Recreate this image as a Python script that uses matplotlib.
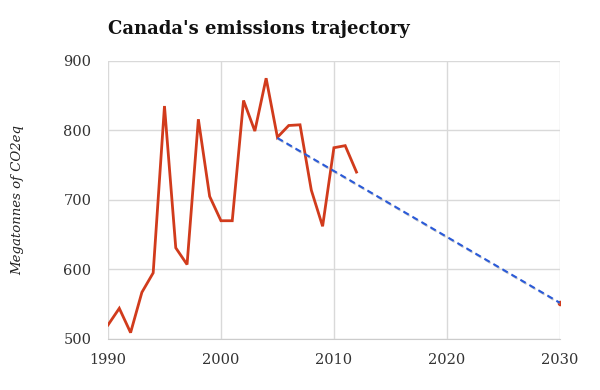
import matplotlib.pyplot as plt
import matplotlib.patheffects as pe

years = list(range(1990, 2013))
emissions = [520, 544, 509, 567, 595, 835, 631, 607, 816, 705, 670, 670,
             843, 799, 875, 790, 807, 808, 714, 662, 775, 778, 740]
target_year = [2030]
target_value = [552]
traj_years = [2005, 2030]
traj_values = [789, 552]

xticks = [1990, 2000, 2010, 2020, 2030]
yticks = [500, 600, 700, 800, 900]

fig = plt.figure(figsize=(6, 3.9), dpi=100)
ax = fig.add_axes([0.18, 0.131, 0.753, 0.713])

ax.plot(years, emissions, color="#d13b1c", lw=2.0, solid_joinstyle="miter", zorder=3)
ax.plot(target_year, target_value, "o", color="#d13b1c", ms=3, zorder=3)
ax.plot(traj_years, traj_values, color="#2a5ad8", lw=1.5, ls=(0, (3, 2)), zorder=4,
        path_effects=[pe.SimpleLineShadow(offset=(0.6, -0.8), shadow_color="#999999", alpha=0.5),
                      pe.Normal()])

ax.set_xlim(1990, 2030)
ax.set_ylim(500, 900)
ax.set_xticks(xticks)
ax.set_yticks(yticks)
ax.grid(True, color="#d9d9d9", lw=1)
ax.set_axisbelow(True)
for s in ["top", "right", "left"]:
    ax.spines[s].set_visible(False)
ax.spines["bottom"].set_color("#cccccc")
ax.tick_params(length=0, labelsize=10.5, labelcolor="#333333", pad=12)
for lab in ax.get_xticklabels() + ax.get_yticklabels():
    lab.set_family("DejaVu Serif")
ax.tick_params(axis="x", pad=10)

ax.set_ylabel("Megatonnes of CO2eq", family="DejaVu Serif", style="italic",
              fontsize=9.5, color="#222222", labelpad=28)
fig.text(0.18, 0.925, "Canada's emissions trajectory", family="DejaVu Serif",
         weight="bold", fontsize=13, color="#111111", ha="left", va="center")

fig.savefig("out.png", dpi=100)
